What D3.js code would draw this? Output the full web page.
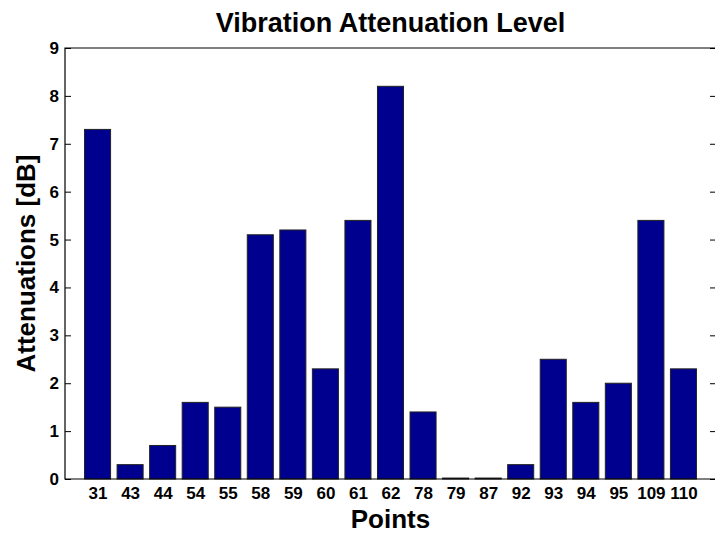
<!DOCTYPE html>
<html>
<head>
<meta charset="utf-8">
<script src="https://cdn.jsdelivr.net/npm/d3@7"></script>
<style>
  body { margin: 0; background: #fff; }
  text { font-family: "Liberation Sans", Arial, sans-serif; font-weight: bold; }
</style>
</head>
<body>
<div id="chart-area"></div>
<script>
// bar data
let points = ["31","43","44","54","55","58","59","60","61","62","78","79","87","92","93","94","95","109","110"];
let attenuations = [7.3, 0.3, 0.7, 1.6, 1.5, 5.1, 5.2, 2.3, 5.4, 8.2, 1.4, 0.02, 0.02, 0.3, 2.5, 1.6, 2.0, 5.4, 2.3];
let yTicks = [0,1,2,3,4,5,6,7,8,9];

let width = 715, height = 533;
let margin = {top: 48, right: -1, bottom: 54, left: 65};

let svg = d3.select("#chart-area").append("svg")
  .attr("width", width)
  .attr("height", height);

// x in bar units 0..20, bars at 1..19 like matlab
let x = d3.scaleLinear()
  .domain([0, points.length + 1])
  .range([margin.left, width - margin.right]);

let y = d3.scaleLinear()
  .domain([0, 9])
  .range([height - margin.bottom, margin.top]);

let barW = (x(1) - x(0)) * 0.8;

svg.selectAll("rect.bar")
  .data(attenuations)
  .enter()
  .append("rect")
  .attr("class", "bar")
  .attr("x", (d, i) => x(i + 1) - barW / 2)
  .attr("y", d => y(d))
  .attr("width", barW)
  .attr("height", d => y(0) - y(d))
  .attr("fill", "#00008f")
  .attr("stroke", "#222")
  .attr("stroke-width", 1);

// box
let x0 = x.range()[0], x1 = x.range()[1];
let y0 = y.range()[0], y1 = y.range()[1];
svg.append("path")
  .attr("d", `M${x0},${y0}V${y1}H${x1}V${y0}Z`)
  .attr("fill", "none")
  .attr("stroke", "#000")
  .attr("stroke-width", 1.2);

// left axis, ticks pointing inward
let yAxis = d3.axisLeft(y).tickValues(yTicks).tickSize(-6).tickPadding(6).tickFormat(d3.format("d"));
let gy = svg.append("g")
  .attr("transform", "translate(" + x0 + ",0)")
  .call(yAxis);
gy.select(".domain").remove();
gy.selectAll("text").style("font-size", "17px").attr("fill", "#000");

// right side ticks
let gr = svg.append("g")
  .attr("transform", "translate(" + x1 + ",0)")
  .call(d3.axisRight(y).tickValues(yTicks).tickSize(-6).tickFormat(""));
gr.select(".domain").remove();

// bottom labels
let xAxis = d3.axisBottom(x)
  .tickValues(d3.range(1, points.length + 1))
  .tickSize(0)
  .tickPadding(8)
  .tickFormat(d => points[d - 1]);
let gx = svg.append("g")
  .attr("transform", "translate(0," + y0 + ")")
  .call(xAxis);
gx.select(".domain").remove();
gx.selectAll("text").style("font-size", "17px").attr("fill", "#000");

// titles
svg.append("text")
  .attr("x", (x0 + x1) / 2)
  .attr("y", 32)
  .attr("text-anchor", "middle")
  .style("font-size", "27px")
  .text("Vibration Attenuation Level");

svg.append("text")
  .attr("x", (x0 + x1) / 2)
  .attr("y", 528)
  .attr("text-anchor", "middle")
  .style("font-size", "26px")
  .text("Points");

svg.append("text")
  .attr("transform", "translate(35," + ((y0 + y1) / 2) + ") rotate(-90)")
  .attr("text-anchor", "middle")
  .style("font-size", "26px")
  .text("Attenuations [dB]");
</script>
</body>
</html>
